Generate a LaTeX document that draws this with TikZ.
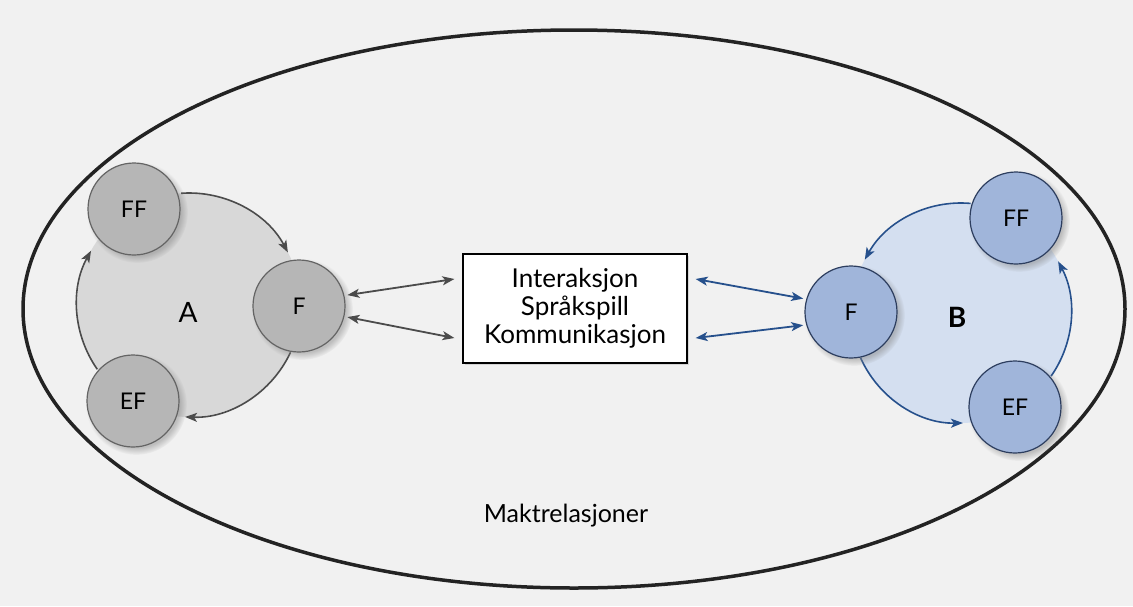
\documentclass[tikz,border=0pt]{standalone}
\usepackage{fontspec}
\setmainfont{Lato}
\usetikzlibrary{arrows.meta,shadows,calc}
\definecolor{pagebg}{RGB}{241,241,241}
\definecolor{ellipseline}{RGB}{35,35,35}
\definecolor{grayfill}{RGB}{182,182,182}
\definecolor{grayline}{RGB}{100,100,100}
\definecolor{graybg}{RGB}{216,216,216}
\definecolor{grayarrow}{RGB}{75,75,75}
\definecolor{bluefill}{RGB}{160,181,218}
\definecolor{blueline}{RGB}{45,62,95}
\definecolor{bluebg}{RGB}{212,223,240}
\definecolor{bluearrow}{RGB}{38,80,140}
\begin{document}
\begin{tikzpicture}[x=1pt,y=-1pt,
  agent/.style={circle, minimum size=92pt, inner sep=0pt, line width=1.2pt,
    font=\fontsize{23}{26}\selectfont,
    circular drop shadow={shadow xshift=3pt, shadow yshift=-3pt, opacity=0.45}},
  anode/.style={agent, draw=grayline, fill=grayfill},
  bnode/.style={agent, draw=blueline, fill=bluefill},
  cyc/.style={line width=1.6pt, -{Stealth[length=12pt,width=9pt,inset=3pt]}},
  link/.style={line width=1.8pt, {Stealth[length=12pt,width=9pt,inset=3pt]}-{Stealth[length=12pt,width=9pt,inset=3pt]}},
  biglabel/.style={font=\fontsize{28}{32}\selectfont},
]
\useasboundingbox (0,0) rectangle (1133,606);
\fill[pagebg] (0,0) rectangle (1133,606);
% outer ellipse
\draw[line width=3.5pt, ellipseline] (574,309) ellipse [x radius=551, y radius=279];
% group backgrounds
\coordinate (cA) at (189,305);
\coordinate (cB) at (961,313);
\fill[graybg] (cA) circle [radius=112];
\fill[bluebg] (cB) circle [radius=110];
% cycle arrows A (clockwise)
\draw[cyc, grayarrow] ($(cA)+(-94:112)$) arc[start angle=-94, end angle=-28, radius=112];
\draw[cyc, grayarrow] ($(cA)+(25:112)$) arc[start angle=25, end angle=92, radius=112];
\draw[cyc, grayarrow] ($(cA)+(145:112)$) arc[start angle=145, end angle=209, radius=112];
% cycle arrows B (counter-clockwise)
\draw[cyc, bluearrow] ($(cB)+(-85:110)$) arc[start angle=-85, end angle=-151, radius=110];
\draw[cyc, bluearrow] ($(cB)+(156:110)$) arc[start angle=156, end angle=89, radius=110];
\draw[cyc, bluearrow] ($(cB)+(35:110)$) arc[start angle=35, end angle=-28, radius=110];
% group A nodes
\node[anode] (aFF) at (134,209) {FF};
\node[anode] (aF)  at (299,306) {F};
\node[anode] (aEF) at (133,401) {EF};
% group B nodes
\node[bnode] (bFF) at (1016,218) {FF};
\node[bnode] (bF)  at (851,312) {F};
\node[bnode] (bEF) at (1015,407) {EF};
% labels
\node[biglabel] (labA) at (188,312) {A};
\node[biglabel, font=\fontsize{28}{32}\selectfont\bfseries] (labB) at (957,317) {B};
% central box
\node[draw, line width=1.2pt, fill=white, minimum width=224pt, minimum height=109pt,
  align=center, font=\fontsize{26}{28}\selectfont,
  drop shadow={shadow xshift=2pt, shadow yshift=-2pt, opacity=0.25}] (box) at (575,308.5)
  {Interaksjon\\Språkspill\\Kommunikasjon};
% links
\coordinate (bwU) at ($(box.west)+(-8,-29.5)$);
\coordinate (bwD) at ($(box.west)+(-8,29.5)$);
\coordinate (beU) at ($(box.east)+(8,-29.5)$);
\coordinate (beD) at ($(box.east)+(8,29.5)$);
\draw[link, grayarrow, shorten <=3pt] (aF.13) -- (bwU);
\draw[link, grayarrow, shorten <=3pt] (aF.-13) -- (bwD);
\draw[link, bluearrow, shorten >=3pt] (beU) -- (bF.164);
\draw[link, bluearrow, shorten >=3pt] (beD) -- (bF.196);
% outer label
\node[biglabel, font=\fontsize{25}{28}\selectfont] (makt) at (566,516) {Maktrelasjoner};
\end{tikzpicture}
\end{document}
